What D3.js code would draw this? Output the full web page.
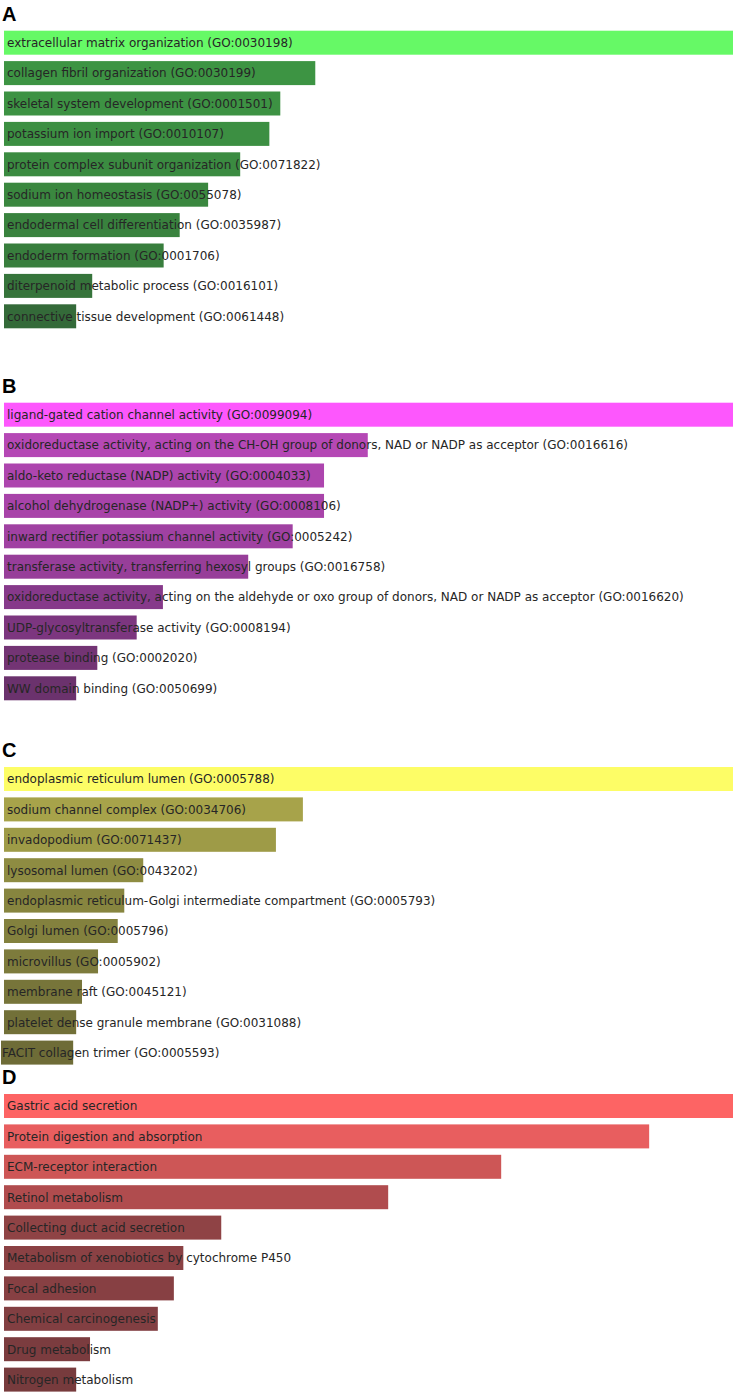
<!DOCTYPE html>
<html>
<head>
<meta charset="utf-8">
<script src="https://cdn.jsdelivr.net/npm/d3@7"></script>
<style>
  body { margin: 0; background: #fff; }
  svg { display: block; }
</style>
</head>
<body>
<div id="chart"></div>
<script>
// panel A - GO biological process
const aTerms = [
  "extracellular matrix organization (GO:0030198)",
  "collagen fibril organization (GO:0030199)",
  "skeletal system development (GO:0001501)",
  "potassium ion import (GO:0010107)",
  "protein complex subunit organization (GO:0071822)",
  "sodium ion homeostasis (GO:0055078)",
  "endodermal cell differentiation (GO:0035987)",
  "endoderm formation (GO:0001706)",
  "diterpenoid metabolic process (GO:0016101)",
  "connective tissue development (GO:0061448)"
];
const aScores = [100, 42.7, 37.9, 36.4, 32.4, 28.0, 24.1, 21.9, 12.1, 9.9];

// panel B - GO molecular function
const bTerms = [
  "ligand-gated cation channel activity (GO:0099094)",
  "oxidoreductase activity, acting on the CH-OH group of donors, NAD or NADP as acceptor (GO:0016616)",
  "aldo-keto reductase (NADP) activity (GO:0004033)",
  "alcohol dehydrogenase (NADP+) activity (GO:0008106)",
  "inward rectifier potassium channel activity (GO:0005242)",
  "transferase activity, transferring hexosyl groups (GO:0016758)",
  "oxidoreductase activity, acting on the aldehyde or oxo group of donors, NAD or NADP as acceptor (GO:0016620)",
  "UDP-glycosyltransferase activity (GO:0008194)",
  "protease binding (GO:0002020)",
  "WW domain binding (GO:0050699)"
];
const bScores = [100, 49.9, 43.9, 43.9, 39.6, 33.5, 21.8, 18.2, 12.8, 9.9];

// panel C - GO cellular component
const cTerms = [
  "endoplasmic reticulum lumen (GO:0005788)",
  "sodium channel complex (GO:0034706)",
  "invadopodium (GO:0071437)",
  "lysosomal lumen (GO:0043202)",
  "endoplasmic reticulum-Golgi intermediate compartment (GO:0005793)",
  "Golgi lumen (GO:0005796)",
  "microvillus (GO:0005902)",
  "membrane raft (GO:0045121)",
  "platelet dense granule membrane (GO:0031088)",
  "FACIT collagen trimer (GO:0005593)"
];
const cScores = [100, 41.0, 37.3, 19.1, 16.5, 15.6, 12.9, 10.7, 9.9, 9.9];

// panel D - KEGG
const dTerms = [
  "Gastric acid secretion",
  "Protein digestion and absorption",
  "ECM-receptor interaction",
  "Retinol metabolism",
  "Collecting duct acid secretion",
  "Metabolism of xenobiotics by cytochrome P450",
  "Focal adhesion",
  "Chemical carcinogenesis",
  "Drug metabolism",
  "Nitrogen metabolism"
];
const dScores = [100, 88.5, 68.2, 52.7, 29.8, 24.6, 23.3, 21.1, 11.8, 9.9];

const panelLetters = ["A", "B", "C", "D"];

// bar palettes, brightest = top hit
const aPalette = ["#66f966","#3d9443","#3d9243","#3c8f42","#3b8b41","#3a873f","#39823e","#387e3d","#36743b","#346a39"];
const bPalette = ["#fd57fd","#b548b5","#ad45ae","#a843a9","#a041a2","#973e99","#86398a","#7c367f","#733474","#6b326d"];
const cPalette = ["#fdfd66","#a7a34a","#9e9b47","#8e8c42","#87853f","#83813e","#7d7b3c","#77753a","#727038","#6e6c37"];
const dPalette = ["#fd6464","#e85e5f","#cd5656","#b04c4e","#8f4345","#8a4144","#874043","#823f42","#7b3c3f","#773b3d"];

const W = 739, H = 1400;
const panelTops = [30.7, 402.7, 767, 1094];
const step = 30.4, barH = 24;

const svg = d3.select("#chart").append("svg")
  .attr("width", W).attr("height", H);

const x = d3.scaleLinear().domain([0, 100]).range([4, 733]);

const panels = [
  {terms: aTerms, scores: aScores, pal: aPalette},
  {terms: bTerms, scores: bScores, pal: bPalette},
  {terms: cTerms, scores: cScores, pal: cPalette},
  {terms: dTerms, scores: dScores, pal: dPalette}
];

panels.forEach((p, pi) => {
  const top = panelTops[pi];
  const y = d3.scaleBand()
    .domain(d3.range(p.terms.length))
    .range([top, top + step * (p.terms.length - 1) + barH])
    .paddingInner(1 - barH / step)
    .paddingOuter(0);

  const g = svg.append("g");

  g.append("text")
    .attr("x", 2)
    .attr("y", top - 10)
    .attr("font-family", "Liberation Sans, Arial, sans-serif")
    .attr("font-weight", "bold")
    .attr("font-size", 20)
    .attr("fill", "#000")
    .text(panelLetters[pi]);

  // last row of C sits a bit further left in the original
  const shift = i => (pi === 2 && i === 9) ? -3 : 0;
  const tshift = i => (pi === 2 && i === 9) ? -5 : 0;

  g.selectAll("rect")
    .data(p.scores)
    .join("rect")
    .attr("x", (d, i) => x(0) + shift(i))
    .attr("y", (d, i) => y(i))
    .attr("width", d => x(d) - x(0))
    .attr("height", y.bandwidth())
    .attr("fill", (d, i) => p.pal[i]);

  g.selectAll("text.lab")
    .data(p.terms)
    .join("text")
    .attr("class", "lab")
    .attr("x", (d, i) => x(0) + 3 + tshift(i))
    .attr("y", (d, i) => y(i) + y.bandwidth() / 2)
    .attr("dy", "0.36em")
    .attr("font-family", "DejaVu Sans, Verdana, sans-serif")
    .attr("font-size", 12)
    .attr("fill", "#262626")
    .text(d => d);
});
</script>
</body>
</html>
